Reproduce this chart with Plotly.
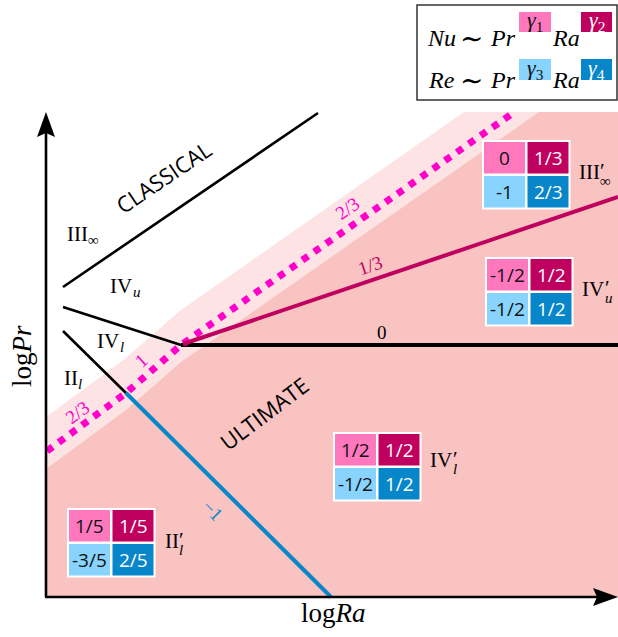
import plotly.graph_objects as go

# ---------------- data (schematic units; origin = corner of the axes) ----------------
X_END = 572      # right edge of the regime map
Y_TOP = 485      # top edge of the regime map

classical_x = [17, 272];  classical_y = [310, 484]
iv_split_x = [17, 135];   iv_split_y = [290, 252]
ii_iv_x = [17, 80];       ii_iv_y = [266, 204]
blue_x = [80, 285];       blue_y = [204, 0]
zero_x = [135, 572];      zero_y = [252, 252]
third_x = [137, 572];     third_y = [253, 400]
dotted_x = [1, 80, 135, 467];   dotted_y = [146, 204, 252, 484]
band_hi_x = [0, 80, 135, 418];  band_hi_y = [180, 239, 287, 485]
band_lo_x = [0, 80, 135, 493];  band_lo_y = [128, 187, 235, 485]

# exponent tables (gamma1..gamma4) for the primed regimes
table_x0 = [438, 441, 289, 23]
table_top = [455, 338, 163, 87]
gamma1 = ["0", "-1/2", "1/2", "1/5"]
gamma2 = ["1/3", "1/2", "1/2", "1/5"]
gamma3 = ["-1", "-1/2", "-1/2", "-3/5"]
gamma4 = ["2/3", "1/2", "1/2", "2/5"]

# regime labels
label_main = ["III", "IV", "IV", "II", "III", "IV", "IV", "II"]
label_sub = ["∞", "u", "l", "l", "∞", "u", "l", "l"]
label_prime = [False, False, False, False, True, True, True, True]
label_x = [19, 62, 49, 16, 531, 534, 382, 117]
label_y = [363, 311, 256, 219, 425, 308, 137, 56]

# slope labels
slope_text = ["0", "1/3", "2/3", "1", "2/3", "−1"]
slope_x = [336, 324, 301, 95, 31, 167]
slope_y = [265, 332, 389, 237, 185, 87]
slope_angle = [0, -18.6, -35, -42, -36, 45]

# ---------------- styles ----------------
LIGHT = "#fde3e3"
DARK = "#f9c3c1"
G1 = "#ff78be"
G2 = "#c0005f"
G3 = "#88d4ff"
G4 = "#0786c9"
DOT = "#ff00cc"
SERIF = "Liberation Serif, DejaVu Serif, serif"
SANS = "Open Sans, Noto Sans, sans-serif"
slope_color = ["black", G2, DOT, DOT, DOT, G4]

fig = go.Figure()


def poly(xs, ys, color):
    fig.add_trace(go.Scatter(x=xs, y=ys, fill="toself", fillcolor=color, mode="lines",
                             line=dict(width=0), hoverinfo="skip", showlegend=False))


def line(xs, ys, color, width, dash=None):
    fig.add_trace(go.Scatter(x=xs, y=ys, mode="lines",
                             line=dict(color=color, width=width, dash=dash),
                             hoverinfo="skip", showlegend=False))


poly(band_hi_x + [X_END, X_END, 0], band_hi_y + [Y_TOP, 0, 0], LIGHT)
poly(band_lo_x + [X_END, X_END, 0], band_lo_y + [Y_TOP, 0, 0], DARK)

line(classical_x, classical_y, "black", 2.6)
line(iv_split_x, iv_split_y, "black", 2.6)
line(ii_iv_x, ii_iv_y, "black", 2.6)
line(zero_x, zero_y, "black", 4)
line(blue_x, blue_y, G4, 4)
line(dotted_x, dotted_y, DOT, 7, dash="7px,7.5px")
line(third_x, third_y, G2, 4)

shapes = []
ann = []

# axes with arrows
AX_W = 2.6
shapes.append(dict(type="line", x0=0, y0=0, x1=0, y1=466, line=dict(color="black", width=AX_W)))
shapes.append(dict(type="line", x0=-1, y0=0, x1=553, y1=0, line=dict(color="black", width=AX_W)))
shapes.append(dict(type="path", path="M 0,485 L -9,460 L 0,464 L 9,460 Z",
                   fillcolor="black", line=dict(width=0)))
shapes.append(dict(type="path", path="M 572,0 L 547,-9 L 551,0 L 547,9 Z",
                   fillcolor="black", line=dict(width=0)))

# tables
W, H, GAP, B = 41, 31.5, 2.5, 2
for i in range(len(table_x0)):
    x0, top = table_x0[i], table_top[i]
    shapes.append(dict(type="rect", x0=x0 - B, x1=x0 + 2 * W + GAP + B,
                       y0=top - 2 * H - GAP - B, y1=top + B,
                       fillcolor="white", line=dict(width=0)))
    cells = [(0, 0, gamma1[i], G1, "#111"), (1, 0, gamma2[i], G2, "white"),
             (0, 1, gamma3[i], G3, "#111"), (1, 1, gamma4[i], G4, "white")]
    for c, r, txt, fc, tc in cells:
        cx0 = x0 + c * (W + GAP)
        cy1 = top - r * (H + GAP)
        shapes.append(dict(type="rect", x0=cx0, x1=cx0 + W, y0=cy1 - H, y1=cy1,
                           fillcolor=fc, line=dict(width=0)))
        ann.append(dict(x=cx0 + W / 2, y=cy1 - H / 2, text=txt, showarrow=False,
                        font=dict(family=SANS, size=19, color=tc)))

# regime labels
CHAR_W = {"I": 0.333, "V": 0.722}
FS = 21
for m, s, p, x, y in zip(label_main, label_sub, label_prime, label_x, label_y):
    w = sum(CHAR_W[ch] for ch in m) * FS
    ann.append(dict(x=x, y=y, text=m, showarrow=False, xanchor="left", yanchor="middle",
                    font=dict(family=SERIF, size=FS, color="black")))
    stxt = s if s == "∞" else "<i>%s</i>" % s
    ann.append(dict(x=x + w + 0.5, y=y - (9 if p else 6), text=stxt, showarrow=False,
                    xanchor="left", yanchor="middle",
                    font=dict(family=SERIF, size=15, color="black")))
    if p:
        ann.append(dict(x=x + w + 0.5, y=y + 1, text="′", showarrow=False,
                        xanchor="left", yanchor="middle",
                        font=dict(family=SERIF, size=FS, color="black")))

# slope labels
for t, x, y, a, c in zip(slope_text, slope_x, slope_y, slope_angle, slope_color):
    ann.append(dict(x=x, y=y, text=t, showarrow=False, textangle=a,
                    font=dict(family=SERIF, size=19, color=c)))

# regime names
ann.append(dict(x=117, y=420, text="CLASSICAL", showarrow=False, textangle=-34,
                font=dict(family=SANS, size=22, color="black")))
ann.append(dict(x=218, y=184, text="ULTIMATE", showarrow=False, textangle=-37,
                font=dict(family=SANS, size=22, color="black")))

# axis titles
ann.append(dict(x=-24, y=241, text="log<i>Pr</i>", showarrow=False, textangle=-90,
                font=dict(family=SERIF, size=27, color="black")))
ann.append(dict(x=287, y=-16, text="log<i>Ra</i>", showarrow=False,
                font=dict(family=SERIF, size=27, color="black")))

# legend box
shapes.append(dict(type="rect", x0=371, x1=571, y0=497, y1=592,
                   fillcolor="white", line=dict(color="#333", width=1.5)))
legend_rows_y = [559, 517]
legend_lhs = ["Nu", "Re"]
legend_box_y = [(565, 585), (517, 538)]
legend_colors = [(G1, "#111", G2, "white"), (G3, "#111", G4, "white")]
legend_idx = [("1", "2"), ("3", "4")]
for r in range(2):
    y = legend_rows_y[r]
    for txt, x, fs in [("<i>%s</i>" % legend_lhs[r], 395, 24), ("∼", 425, 28),
                       ("<i>Pr</i>", 457, 24), ("<i>Ra</i>", 520, 24)]:
        ann.append(dict(x=x, y=y, text=txt, showarrow=False,
                        font=dict(family=SERIF, size=fs, color="black")))
    yb0, yb1 = legend_box_y[r]
    f1, t1, f2, t2 = legend_colors[r]
    for (bx0, bx1), fc, tc, k in [((473, 505), f1, t1, legend_idx[r][0]),
                                  ((535, 566), f2, t2, legend_idx[r][1])]:
        shapes.append(dict(type="rect", x0=bx0, x1=bx1, y0=yb0, y1=yb1,
                           fillcolor=fc, line=dict(width=0)))
        ann.append(dict(x=(bx0 + bx1) / 2, y=(yb0 + yb1) / 2 + 1,
                        text="<i>γ</i><sub>%s</sub>" % k,
                        showarrow=False, font=dict(family=SERIF, size=22, color=tc)))

fig.update_layout(
    width=618, height=637, margin=dict(l=0, r=0, t=0, b=0),
    paper_bgcolor="white", plot_bgcolor="white",
    xaxis=dict(range=[-46, 572], visible=False, fixedrange=True),
    yaxis=dict(range=[-40, 597], visible=False, fixedrange=True),
    shapes=shapes, annotations=ann, showlegend=False,
)
fig.write_html("out.html", config={"displayModeBar": False},
               post_script="document.body.style.margin='0px';")
